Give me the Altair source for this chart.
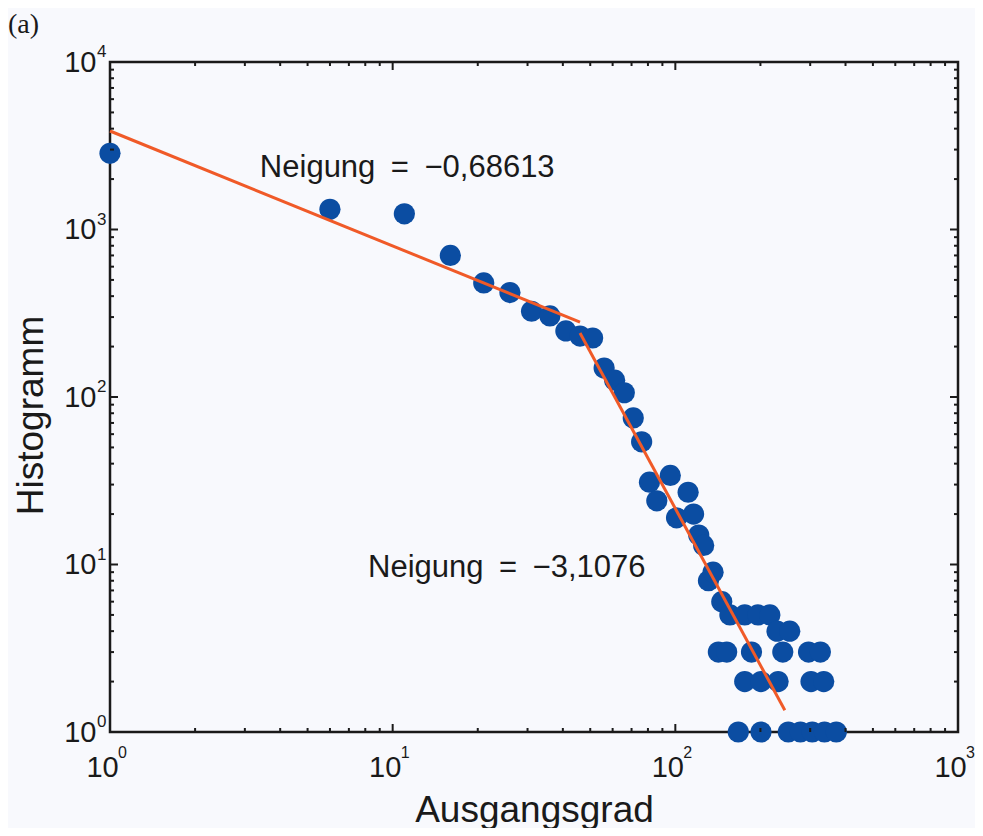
import altair as alt
import pandas as pd

# ---- data ----
degree = [1, 6, 11, 16, 21, 26, 31, 36, 41, 46,
          51, 56, 61, 66, 71, 76, 81, 86, 96, 101,
          111, 116, 121, 126, 131, 136, 146, 156, 176, 196,
          216, 229, 254,
          142, 152, 186, 240, 296, 326,
          176, 201, 231, 302, 335,
          167, 201, 251, 277, 305, 337, 371]
counts = [2850, 1320, 1240, 700, 480, 420, 325, 305, 248, 231,
          225, 149, 126, 106, 75, 54, 31, 24, 34, 19,
          27, 20, 15, 13, 8, 9, 6, 5, 5, 5,
          5, 4, 4,
          3, 3, 3, 3, 3, 3,
          2, 2, 2, 2, 2,
          1, 1, 1, 1, 1, 1, 1]

fit_x = [1, 46, 46, 244]
fit_y = [3873, 280, 241, 1.35]
fit_seg = ["a", "a", "b", "b"]

ann_x = [3.39, 8.18]
ann_y = [2057, 8.42]
ann_text = ["Neigung\u2002=\u2002\u22120,68613", "Neigung\u2002=\u2002\u22123,1076"]

x_major = [1, 10, 100, 1000]
x_exp = ["0", "1", "2", "3"]
y_major = [1, 10, 100, 1000, 10000]
y_exp = ["0", "1", "2", "3", "4"]
x_minor = [m * 10 ** k for k in range(3) for m in range(2, 10)]
y_minor = [m * 10 ** k for k in range(4) for m in range(2, 10)]

W, H = 848, 670
FONT = "Liberation Sans"
AX = "#1a1a1a"
DOT = "#0b4da2"
LINE = "#f05a28"
BG = "#f8f9fd"

xs = alt.Scale(type="log", domain=[1, 1000], nice=False)
ys = alt.Scale(type="log", domain=[1, 10000], nice=False)

common_axis = dict(
    ticks=False, domain=False, grid=False,
    labelFont=FONT, labelFontSize=29, labelColor=AX,
    labelFlush=False, labelOverlap=False,
    titleFont=FONT, titleFontSize=37, titleFontWeight="normal", titleColor=AX,
)
x_axis = alt.Axis(values=x_major, labelExpr="'10'", labelPadding=21, labelOffset=-8,
                  title="Ausgangsgrad", titleY=89, titleBaseline="alphabetic", **common_axis)
y_axis = alt.Axis(values=y_major, labelExpr="'10'", labelPadding=14,
                  title="Histogramm", titleX=-68, titleY=353, titleAngle=270,
                  titleBaseline="alphabetic", **common_axis)


def X(field):
    return alt.X(field, scale=xs, axis=x_axis)


def Y(field):
    return alt.Y(field, scale=ys, axis=y_axis)


pts = pd.DataFrame({"deg": degree, "cnt": counts})
fit = pd.DataFrame({"deg": fit_x, "cnt": fit_y, "seg": fit_seg})
ann = pd.DataFrame({"deg": ann_x, "cnt": ann_y, "t": ann_text})

points = alt.Chart(pts).mark_circle(size=450, opacity=1, color=DOT).encode(
    x=X("deg:Q"), y=Y("cnt:Q"))

lines = alt.Chart(fit).mark_line(color=LINE, strokeWidth=3).encode(
    x=X("deg:Q"), y=Y("cnt:Q"), detail="seg:N")

labels = alt.Chart(ann).mark_text(
    align="left", baseline="alphabetic", font=FONT, fontSize=31, color=AX
).encode(x=X("deg:Q"), y=Y("cnt:Q"), text="t:N")


def xrules(vals, y0, y1):
    return alt.Chart(pd.DataFrame({"deg": vals})).mark_rule(color=AX, strokeWidth=2).encode(
        x=X("deg:Q"), y=alt.value(y0), y2=alt.value(y1))


def yrules(vals, x0, x1):
    return alt.Chart(pd.DataFrame({"cnt": vals})).mark_rule(color=AX, strokeWidth=2).encode(
        y=Y("cnt:Q"), x=alt.value(x0), x2=alt.value(x1))


ticks = [
    xrules(x_major, H, H - 8), xrules(x_minor, H, H - 4),
    xrules(x_major, 0, 8), xrules(x_minor, 0, 4),
    yrules(y_major, 0, 8), yrules(y_minor, 0, 4),
    yrules(y_major, W, W - 8), yrules(y_minor, W, W - 4),
]

xexp = alt.Chart(pd.DataFrame({"deg": x_major, "e": x_exp})).mark_text(
    align="left", baseline="alphabetic", dx=8, dy=26, font=FONT, fontSize=16, color=AX
).encode(x=X("deg:Q"), y=alt.value(H), text="e:N")

yexp = alt.Chart(pd.DataFrame({"cnt": y_major, "e": y_exp})).mark_text(
    align="left", baseline="alphabetic", dx=-13, dy=-5, font=FONT, fontSize=17, color=AX
).encode(y=Y("cnt:Q"), x=alt.value(0), text="e:N")

chart = alt.layer(points, lines, labels, xexp, yexp, *ticks).properties(
    width=W, height=H,
    autosize=alt.AutoSizeParams(type="none"),
    padding={"left": 102, "top": 54, "right": 17, "bottom": 96},
    background=BG,
    title=alt.TitleParams("(a)", anchor="start", frame="group", dx=-102, font="Liberation Serif",
                          fontSize=28, fontWeight="normal", color=AX, offset=4),
).configure_view(stroke=AX, strokeWidth=2.5)

chart.save("out.html", embed_options={"renderer": "svg", "actions": False})
